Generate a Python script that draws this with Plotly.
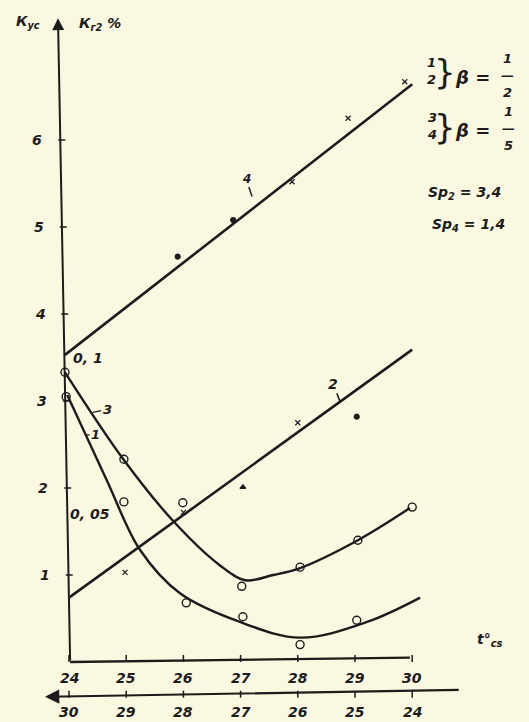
import plotly.graph_objects as go

# ── data ──────────────────────────────────────────────────────────────────
temp_upper = [24, 25, 26, 27, 28, 29, 30]
temp_lower = [30, 29, 28, 27, 26, 25, 24]
y_ticks = [1, 2, 3, 4, 5, 6]

# straight lines 4 and 2 (end points) + their measured points
line4_x = [23.93, 30]
line4_y = [3.53, 6.64]
pts4_x = [25.9, 26.87, 27.9, 28.88, 29.87]
pts4_y = [4.66, 5.08, 5.52, 6.25, 6.67]
pts4_sym = ["circle", "circle", "x-thin-open", "x-thin-open", "x-thin-open"]

line2_x = [24, 30]
line2_y = [0.74, 3.59]
pts2_x = [24.98, 26.0, 27.04, 28.0, 29.03]
pts2_y = [1.03, 1.72, 2.01, 2.75, 2.82]
pts2_sym = ["x-thin-open", "x-thin-open", "triangle-up", "x-thin-open", "circle"]

# curve 3 (drawn path) and its circles
curve3_x = [23.93, 24.94, 25.85, 26.64, 27.08, 27.57, 28.04, 29.05, 29.96]
curve3_y = [3.33, 2.34, 1.60, 1.11, 0.94, 1.00, 1.08, 1.40, 1.77]
circ3_x = [23.93, 24.96, 25.99, 27.02, 28.04, 29.05, 30.0]
circ3_y = [3.33, 2.33, 1.83, 0.87, 1.09, 1.40, 1.78]

# curve 1 (drawn path) and its circles
curve1_x = [23.97, 24.66, 25.24, 25.94, 26.99, 28.04, 29.21, 30.14]
curve1_y = [3.07, 2.09, 1.29, 0.79, 0.46, 0.28, 0.46, 0.74]
circ1_x = [23.95, 24.96, 26.05, 27.04, 28.04, 29.03]
circ1_y = [3.05, 1.84, 0.68, 0.52, 0.20, 0.48]

PAPER = "#fbf8e2"
INK = "#1c1c1c"
FONT = dict(family="DejaVu Sans", color=INK, size=14, weight="bold", style="italic")

fig = go.Figure()

for cx, cy in [(line4_x, line4_y), (line2_x, line2_y)]:
    fig.add_trace(go.Scatter(x=cx, y=cy, mode="lines", line=dict(color=INK, width=2.6)))
for cx, cy in [(curve3_x, curve3_y), (curve1_x, curve1_y)]:
    fig.add_trace(go.Scatter(x=cx, y=cy, mode="lines", line=dict(color=INK, width=2.4, shape="spline", smoothing=1.0)))

for px, py, sym in [(pts4_x, pts4_y, pts4_sym), (pts2_x, pts2_y, pts2_sym)]:
    fig.add_trace(go.Scatter(x=px, y=py, mode="markers",
                             marker=dict(symbol=sym, size=5, color=INK, line=dict(color=INK, width=1.2))))
for px, py in [(circ3_x, circ3_y), (circ1_x, circ1_y)]:
    fig.add_trace(go.Scatter(x=px, y=py, mode="markers",
                             marker=dict(symbol="circle-open", size=8, color=INK, line=dict(color=INK, width=1.4))))

# ── hand-drawn axes ───────────────────────────────────────────────────────
tilt = 0.026  # the vertical axis leans slightly left towards the top
fig.add_annotation(x=24 - tilt * 7.4, y=7.4, ax=24.02, ay=0, xref="x", yref="y", axref="x", ayref="y",
                   text="", showarrow=True, arrowhead=2, arrowsize=1.2, arrowwidth=2, arrowcolor=INK)
fig.add_shape(type="line", x0=24.02, y0=0, x1=29.96, y1=0.05, line=dict(color=INK, width=2.4))
fig.add_annotation(x=23.58, y=-0.40, ax=30.84, ay=-0.32, xref="x", yref="y", axref="x", ayref="y",
                   text="", showarrow=True, arrowhead=2, arrowsize=1.3, arrowwidth=2.2, arrowcolor=INK)

# tick marks
tick_marker = dict(size=5, color=INK, line=dict(color=INK, width=1.5))
fig.add_trace(go.Scatter(x=[24 - tilt * v + 0.03 for v in y_ticks], y=y_ticks, mode="markers",
                         marker=dict(tick_marker, symbol="line-ew")))
fig.add_trace(go.Scatter(x=temp_upper, y=[0.04] * len(temp_upper), mode="markers",
                         marker=dict(tick_marker, symbol="line-ns")))
fig.add_trace(go.Scatter(x=temp_upper, y=[-0.37] * len(temp_upper), mode="markers",
                         marker=dict(tick_marker, symbol="line-ns")))

for v in y_ticks:
    fig.add_annotation(x=23.6 - tilt * v, y=v, text=str(v), showarrow=False, font=FONT)
for v in temp_upper:
    fig.add_annotation(x=v, y=-0.18, text=str(v), showarrow=False, font=FONT)
for i, v in enumerate(temp_lower):
    fig.add_annotation(x=temp_upper[i], y=-0.58, text=str(v), showarrow=False, font=FONT)

fig.add_annotation(x=23.28, y=7.36, text="К<sub>ус</sub>", showarrow=False, font=FONT)
fig.add_annotation(x=24.55, y=7.33, text="К<sub>г2</sub> %", showarrow=False, font=FONT)
fig.add_annotation(x=31.36, y=0.25, text="t°<sub>cs</sub>", showarrow=False, font=FONT)

# curve labels
fig.add_annotation(x=27.2, y=5.35, text="4", ax=-6, ay=-18, showarrow=True, arrowhead=0,
                   arrowwidth=1.5, arrowcolor=INK, font=dict(FONT, size=12))
fig.add_annotation(x=28.74, y=2.99, text="2", ax=-7, ay=-18, showarrow=True, arrowhead=0,
                   arrowwidth=1.5, arrowcolor=INK, font=FONT)
fig.add_annotation(x=24.42, y=2.87, text="3", ax=14, ay=-3, showarrow=True, arrowhead=0,
                   arrowwidth=1.2, arrowcolor=INK, font=dict(FONT, size=13))
fig.add_annotation(x=24.31, y=2.61, text="1", ax=9, ay=0, showarrow=True, arrowhead=0,
                   arrowwidth=1.2, arrowcolor=INK, font=dict(FONT, size=13))
fig.add_annotation(x=24.33, y=3.50, text="0, 1", showarrow=False, font=FONT)
fig.add_annotation(x=24.37, y=1.70, text="0, 05", showarrow=False, font=FONT)

# notes on the right
note_font = dict(FONT, size=13)
brace_font = dict(FONT, size=34, style="normal", weight="normal")
fig.add_annotation(x=30.34, y=6.79, text="1<br>2", showarrow=False, font=note_font)
fig.add_annotation(x=30.34, y=6.16, text="3<br>4", showarrow=False, font=note_font)
fig.add_annotation(x=30.57, y=6.78, text="}", showarrow=False, font=brace_font)
fig.add_annotation(x=30.57, y=6.15, text="}", showarrow=False, font=brace_font)
fig.add_annotation(x=31.06, y=6.72, text="β =", showarrow=False, font=dict(FONT, size=18))
fig.add_annotation(x=31.06, y=6.11, text="β =", showarrow=False, font=dict(FONT, size=18))
fig.add_annotation(x=31.66, y=6.74, text="1<br>—<br>2", showarrow=False, font=note_font)
fig.add_annotation(x=31.68, y=6.13, text="1<br>—<br>5", showarrow=False, font=note_font)
fig.add_annotation(x=30.92, y=5.39, text="Sp<sub>2</sub> = 3,4", showarrow=False, font=FONT)
fig.add_annotation(x=30.98, y=5.02, text="Sp<sub>4</sub> = 1,4", showarrow=False, font=FONT)

x_px0, x_scale = 69, 57.2
y_px0, y_scale = 662, 87
fig.update_layout(
    width=529, height=722,
    margin=dict(l=0, r=0, t=0, b=0),
    paper_bgcolor=PAPER, plot_bgcolor=PAPER,
    showlegend=False,
    xaxis=dict(visible=False, range=[24 - x_px0 / x_scale, 24 + (529 - x_px0) / x_scale]),
    yaxis=dict(visible=False, range=[-(722 - y_px0) / y_scale, y_px0 / y_scale]),
)

fig.write_html(
    "out.html",
    config={"displayModeBar": False},
    post_script="document.body.style.margin='0';document.body.style.background='%s';" % PAPER,
)
